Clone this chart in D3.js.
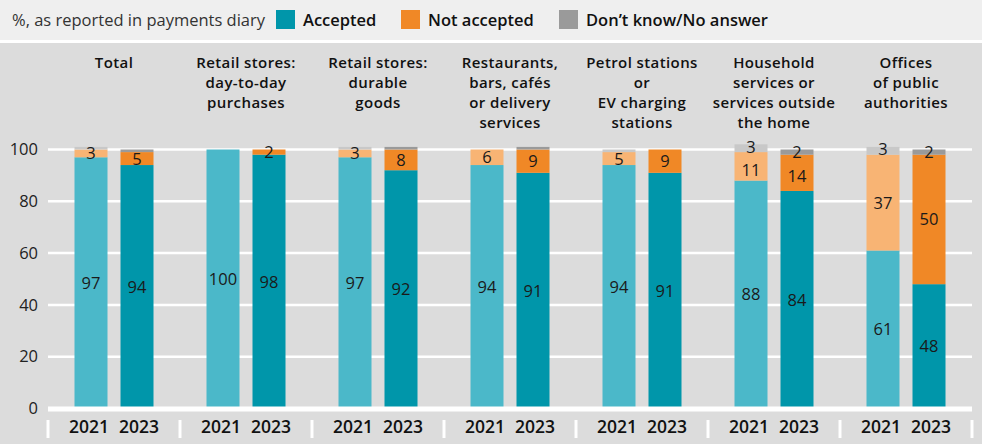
<!DOCTYPE html>
<html><head><meta charset="utf-8">
<script src="https://cdn.jsdelivr.net/npm/d3@7"></script>
<style>
html,body{margin:0;padding:0;background:#efefef;}
svg{display:block;font-family:"Open Sans","Noto Sans",sans-serif;}
</style></head>
<body>
<svg id="chart" width="982" height="444"></svg>
<script>
const categories = [
  ["Total"],
  ["Retail stores:", "day-to-day", "purchases"],
  ["Retail stores:", "durable", "goods"],
  ["Restaurants,", "bars, cafés", "or delivery", "services"],
  ["Petrol stations", "or", "EV charging", "stations"],
  ["Household", "services or", "services outside", "the home"],
  ["Offices", "of public", "authorities"]
];
const years = ["2021", "2023"];
const accepted2021    = [97, 100, 97, 94, 94, 88, 61];
const accepted2023    = [94, 98, 92, 91, 91, 84, 48];
const notAccepted2021 = [3, 0, 3, 6, 5, 11, 37];
const notAccepted2023 = [5, 2, 8, 9, 9, 14, 50];
const dontKnow2021    = [1, 0, 1, 0, 1, 3, 3];
const dontKnow2023    = [1, 0, 1, 1, 0, 2, 2];
const yTicks = [0, 20, 40, 60, 80, 100];
const seriesNames = ["Accepted", "Not accepted", "Don\u2019t know/No answer"];

const colors = {
  "2021": ["#4bb8c9", "#f8b474", "#c8c8c8"],
  "2023": ["#0096aa", "#f08826", "#9a9a9a"]
};

const svg = d3.select("#chart");
const W = 982, H = 444;

// backgrounds
svg.append("rect").attr("x",0).attr("y",0).attr("width",W).attr("height",40).attr("fill","#efefef");
svg.append("rect").attr("x",0).attr("y",40).attr("width",W).attr("height",3).attr("fill","#ffffff");
svg.append("rect").attr("x",0).attr("y",43).attr("width",W).attr("height",H-43).attr("fill","#dcdcdc");

// legend
const leg = svg.append("g");
leg.append("text").attr("x",12).attr("y",26).attr("font-size",16.5).attr("fill","#333")
  .text("%, as reported in payments diary");
const legX = [276, 401, 559];
seriesNames.forEach((n,i)=>{
  leg.append("rect").attr("x",legX[i]).attr("y",10).attr("width",19).attr("height",19)
    .attr("fill", colors["2023"][i]);
  leg.append("text").attr("x",legX[i]+27).attr("y",26).attr("font-size",16.5)
    .attr("font-weight",600).attr("fill","#111").text(n);
});

// scales
const y = d3.scaleLinear().domain([0,100]).range([408.5,149.5]);
const x0 = d3.scaleBand().domain(d3.range(categories.length)).range([48,972]).padding(0);
const x1 = d3.scaleBand().domain(years).range([0, x0.bandwidth()]).paddingInner(0.2826).paddingOuter(0.576);

// gridlines
svg.append("g").selectAll("line").data(yTicks.filter(t=>t>0)).join("line")
  .attr("x1",48).attr("x2",972).attr("y1",d=>y(d)).attr("y2",d=>y(d))
  .attr("stroke","#ffffff").attr("stroke-width",2.5);

// y labels
svg.append("g").selectAll("text").data(yTicks).join("text")
  .attr("x",38).attr("y",d=>y(d)).attr("dy","0.35em").attr("text-anchor","end")
  .attr("font-size",16.5).attr("fill","#222").text(d=>d);

// bars
const dataByYear = {
  "2021": [accepted2021, notAccepted2021, dontKnow2021],
  "2023": [accepted2023, notAccepted2023, dontKnow2023]
};
const barsG = svg.append("g");
const labelsG = svg.append("g");
categories.forEach((c,ci)=>{
  years.forEach(yr=>{
    const vals = dataByYear[yr].map(a=>a[ci]);
    let cum = 0;
    vals.forEach((v,si)=>{
      const y0 = cum, y1v = cum + v; cum = y1v;
      if (v<=0) return;
      const bx = x0(ci) + x1(yr);
      barsG.append("rect").attr("x",bx).attr("width",x1.bandwidth())
        .attr("y",y(y1v)).attr("height",y(y0)-y(y1v)).attr("fill",colors[yr][si]);
      if (v>=2) {
        let off = 0;
        if (si===1 && v>9 && v<15) off = 3.5;
        if (si===2 && v>=3) off = -1.5;
        labelsG.append("text").attr("x",bx + x1.bandwidth()/2)
          .attr("y",(y(y0)+y(y1v))/2 + off)
          .attr("dy","0.36em").attr("text-anchor","middle").attr("font-size",16.5)
          .attr("fill","#1a1a1a").text(v);
      }
    });
  });
});

// zero line
svg.append("line").attr("x1",48).attr("x2",972).attr("y1",y(0)+0.5).attr("y2",y(0)+0.5)
  .attr("stroke","#ffffff").attr("stroke-width",5);

// separators
svg.append("g").selectAll("line").data(d3.range(categories.length+1)).join("line")
  .attr("x1",d=>48+d*x0.bandwidth()).attr("x2",d=>48+d*x0.bandwidth())
  .attr("y1",420).attr("y2",438).attr("stroke","#fff").attr("stroke-width",3);

// year labels
categories.forEach((c,ci)=>{
  years.forEach(yr=>{
    svg.append("text").attr("x",x0(ci)+x1(yr)+x1.bandwidth()/2 + (yr==="2021"?-2:2)).attr("y",427)
      .attr("dy","0.35em").attr("text-anchor","middle").attr("font-size",17.5)
      .attr("font-weight",600).attr("fill","#111").text(yr);
  });
});

// category labels
categories.forEach((lines,ci)=>{
  const t = svg.append("text").attr("text-anchor","middle").attr("font-size",15)
    .attr("font-weight",600).attr("letter-spacing","0.4px").attr("fill","#111");
  lines.forEach((ln,li)=>{
    t.append("tspan").attr("x",x0(ci)+x0.bandwidth()/2).attr("y",63+li*20).attr("dy","0.35em").text(ln);
  });
});
</script>
</body></html>
